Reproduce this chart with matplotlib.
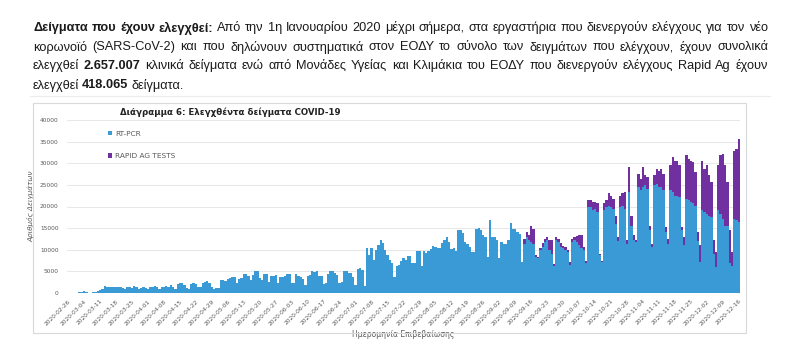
import matplotlib
matplotlib.use("Agg")
import matplotlib.pyplot as plt
from matplotlib.patches import Rectangle
import pandas as pd

# --- data ---
start_date = "2020-02-26"
end_date = "2020-12-16"

rt_pcr = [
    30, 50, 80, 60, 90, 120, 150,
    500, 250, 100, 80, 150, 300, 500,
    700, 900, 1600, 1400, 1500, 1350, 1300,
    1400, 1300, 1500, 1200, 1000, 1400, 1300,
    1200, 1600, 1300, 900, 1100, 1300, 1200,
    1000, 1500, 1400, 1600, 1300, 900, 1400,
    1500, 1600, 1400, 1800, 1300, 1000, 2000,
    2400, 2200, 1900, 1200, 900, 2000, 2200,
    2100, 1400, 1400, 2300, 2600, 2800, 2400,
    1300, 1000, 1100, 1200, 2900, 3000, 2800,
    3300, 3400, 3700, 3600, 2300, 3300, 3500,
    4400, 4300, 4000, 3000, 4200, 5200, 5100,
    3500, 3000, 4400, 4300, 2500, 4000, 4000,
    4100, 2200, 3700, 3700, 4000, 4300, 4400,
    2300, 2200, 4400, 4000, 3700, 3300, 1800,
    4000, 4100, 5000, 4900, 5100, 4000, 3900,
    2100, 2300, 4500, 5000, 5000, 4700, 4200,
    2300, 2600, 5000, 5100, 4700, 4600, 3800,
    1900, 5600, 5800, 5300, 1700, 10400, 8850,
    10400, 7700, 10000, 11200, 12300, 11500, 10000,
    8850, 7700, 6900, 3800, 6200, 6500, 7300,
    8100, 7700, 8500, 8500, 6900, 6900, 9600,
    9600, 6200, 9600, 9200, 9600, 10200, 10800,
    10600, 10400, 10400, 11500, 12300, 12900, 11900,
    10200, 10500, 9800, 14600, 14600, 13900, 11800,
    11400, 10700, 9500, 9500, 14900, 15100, 14500,
    13300, 13000, 8400, 16800, 13000, 13000, 12200,
    8000, 11800, 11400, 11400, 12200, 16200, 14900,
    14900, 14100, 13700, 7200, 11400, 13000, 12200,
    11800, 11400, 8400, 8000, 10000, 10700, 11800,
    12200, 9900, 9100, 6200, 12200, 11800, 10700,
    10300, 9900, 9500, 6400, 11800, 12200, 11800,
    11000, 10300, 10000, 6900, 19900, 19900, 19200,
    19500, 18800, 8700, 7200, 19100, 19900, 20200,
    19900, 19500, 16000, 12000, 19900, 20200, 19500,
    11400, 23300, 15600, 12200, 11800, 24500, 23700,
    24500, 24900, 24100, 14500, 10700, 24900, 25200,
    24500, 24500, 23700, 14100, 11400, 23700, 23300,
    22500, 22500, 22200, 14500, 11000, 21800, 21400,
    21000, 20900, 20200, 12000, 7200, 19100, 18700,
    18300, 17900, 17600, 9000, 6000, 19100, 18300,
    17200, 15600, 15600, 6900, 6300, 17200, 16800,
    16400,
]

rapid_ag = [0] * 200 + [
    1200, 1100, 1100, 3600, 3500, 400, 300,
    300, 800, 800, 700, 2300, 3100, 600,
    800, 800, 800, 600, 700, 500, 800,
    700, 800, 1300, 2300, 3100, 600, 400,
    1500, 1500, 1900, 1500, 1900, 400, 300,
    1800, 1500, 3000, 2600, 2300, 1900, 1000,
    2600, 3000, 3800, 800, 5800, 2300, 1100,
    400, 3000, 2700, 4600, 2300, 2700, 1100,
    700, 2300, 3500, 3800, 4200, 3800, 1200,
    1200, 5800, 8100, 8100, 8100, 7300, 800,
    2000, 10000, 9600, 9600, 9300, 7700, 2000,
    3800, 11500, 10000, 11200, 9300, 8000, 3200,
    3500, 10500, 13600, 14900, 13900, 10000, 7600,
    3200, 15700, 16500, 19200,
]

y_ticks = [0, 5000, 10000, 15000, 20000, 25000, 30000, 35000, 40000]

chart_title = "Διάγραμμα 6: Ελεγχθέντα δείγματα COVID-19"
x_title = "Ημερομηνία Επιβεβαίωσης"
y_title = "Αριθμός Δειγμάτων"
legend_labels = ["RT-PCR", "RAPID AG TESTS"]

paragraph = [
    [("Δείγματα που έχουν ελεγχθεί:", True),
     ("Από την 1η Ιανουαρίου 2020 μέχρι σήμερα, στα εργαστήρια που διενεργούν ελέγχους για τον νέο", False)],
    [("κορωνοϊό (SARS-CoV-2) και που δηλώνουν συστηματικά στον ΕΟΔΥ το σύνολο των δειγμάτων που ελέγχουν, έχουν συνολικά", False)],
    [("ελεγχθεί", False), ("2.657.007", True),
     ("κλινικά δείγματα ενώ από Μονάδες Υγείας και Κλιμάκια του ΕΟΔΥ που διενεργούν ελέγχους Rapid Ag έχουν", False)],
    [("ελεγχθεί", False), ("418.065", True), ("δείγματα.", False)],
]

BLUE = "#3a9ad6"
PURPLE = "#7030a0"
GREY = "#595959"
PARA_FONT = ["Liberation Sans Narrow", "Liberation Sans", "DejaVu Sans"]

dates = pd.date_range(start_date, end_date, freq="D")
x = list(range(len(dates)))

W, H = 800, 358
fig = plt.figure(figsize=(8, 3.58), dpi=100)
renderer = fig.canvas.get_renderer()


def fx(px):
    return px / W


def fy(py):
    return 1 - py / H


def draw_line(parts, y_px, x0_px, x1_px, justify, size=9.2):
    words = []
    for txt, bold in parts:
        for w in txt.split():
            words.append((w, bold))
    objs, widths = [], []
    for w, bold in words:
        t = fig.text(0, fy(y_px), w, fontsize=size, family=PARA_FONT,
                     fontweight="bold" if bold else "normal",
                     color="#1a1a1a", va="center", ha="left")
        objs.append(t)
        widths.append(t.get_window_extent(renderer).width)
    if justify and len(words) > 1:
        gap = (x1_px - x0_px - sum(widths)) / (len(words) - 1)
    else:
        gap = size * 0.3
    pos = x0_px
    for t, wd in zip(objs, widths):
        t.set_x(fx(pos))
        pos += wd + gap


line_y = [28, 47, 66, 85]
for i, parts in enumerate(paragraph):
    draw_line(parts, line_y[i], 33, 768, justify=(i < len(paragraph) - 1))

# faint separator and chart frame
fig.add_artist(plt.Line2D([fx(30), fx(770)], [fy(96), fy(96)], color="#ececec", lw=0.8))
fig.add_artist(Rectangle((fx(33), fy(333)), fx(746) - fx(33), fy(103) - fy(333),
                         transform=fig.transFigure, fill=False,
                         edgecolor="#d9d9d9", lw=0.8))

ax = fig.add_axes([fx(67), fy(293), fx(740) - fx(67), fy(120) - fy(293)])
ax.bar(x, rt_pcr, width=1.0, color=BLUE, linewidth=0, label=legend_labels[0])
ax.bar(x, rapid_ag, width=1.0, bottom=rt_pcr, color=PURPLE, linewidth=0,
       label=legend_labels[1])

ax.set_xlim(-0.5, len(x) - 0.5)
ax.set_ylim(0, 40000)
ax.set_yticks(y_ticks)
ax.set_yticklabels([str(v) for v in y_ticks])
tick_pos = x[::7]
ax.set_xticks(tick_pos)
ax.set_xticklabels([dates[i].strftime("%Y-%m-%d") for i in tick_pos],
                   rotation=45, ha="right", rotation_mode="anchor")
ax.tick_params(axis="both", length=0, labelsize=4.2, labelcolor=GREY)
ax.tick_params(axis="y", pad=6)
ax.tick_params(axis="x", pad=4)
ax.grid(axis="y", color="#e3e3e3", lw=0.6)
ax.set_axisbelow(True)
for s in ax.spines.values():
    s.set_visible(False)

ax.set_xlabel(x_title, fontsize=5.5, color=GREY, labelpad=3)
ax.set_ylabel(y_title, fontsize=5.2, color=GREY, style="italic", labelpad=4)

fig.text(fx(230), fy(112), chart_title, fontsize=6.2, fontweight="bold",
         ha="center", va="center", color="#222222")

ax.legend(loc="upper left", bbox_to_anchor=(0.055, 0.96), frameon=False,
          fontsize=5.3, labelcolor=GREY, handlelength=0.6, handleheight=0.6,
          handletextpad=0.4, labelspacing=2.2, borderpad=0)

fig.savefig("out.png", dpi=100)
